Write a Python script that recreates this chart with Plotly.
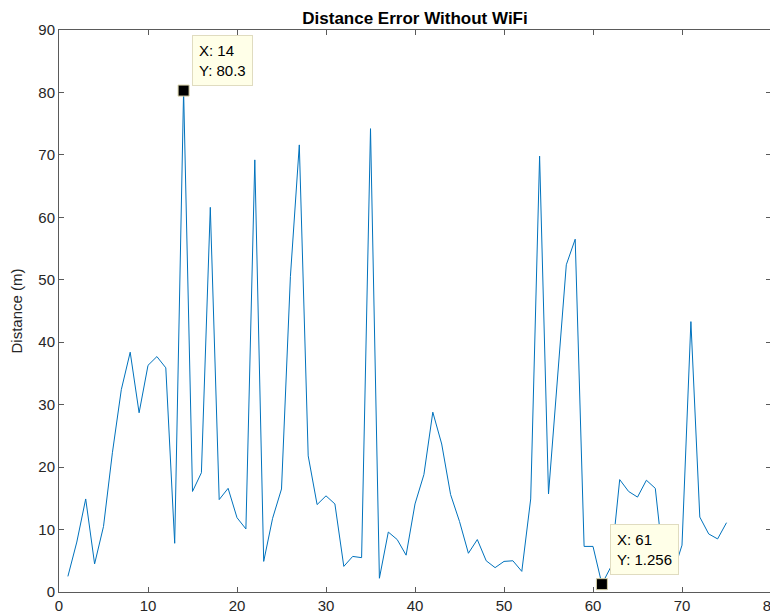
import plotly.graph_objects as go

x_vals = list(range(1, 76))
distance = [
    2.5, 8.0, 14.9, 4.5, 10.5, 22.3, 32.4, 38.4, 28.7, 36.3,
    37.7, 35.9, 7.8, 80.3, 16.1, 19.1, 61.6, 14.8, 16.6, 11.9,
    10.1, 69.2, 4.9, 11.8, 16.5, 50.5, 71.6, 21.8, 14.0, 15.4,
    14.1, 4.1, 5.7, 5.5, 74.2, 2.2, 9.6, 8.4, 5.9, 14.1,
    18.8, 28.8, 23.7, 15.6, 11.3, 6.2, 8.4, 5.0, 3.9, 4.9,
    5.0, 3.3, 14.9, 69.8, 15.7, 34.0, 52.4, 56.5, 7.3, 7.3,
    1.256, 4.0, 18.0, 16.1, 15.2, 17.9, 16.6, 3.5, 3.0, 7.5,
    43.3, 12.0, 9.3, 8.5, 11.1,
]
tip_x = [14, 61]
tip_y = [80.3, 1.256]
tip_labels = ["X: 14<br>Y: 80.3", "X: 61<br>Y: 1.256"]

title_text = "Distance Error Without WiFi"
y_title = "Distance (m)"
x_ticks = [0, 10, 20, 30, 40, 50, 60, 70, 80]
y_ticks = [0, 10, 20, 30, 40, 50, 60, 70, 80, 90]

font_family = "Liberation Sans, Arial, sans-serif"
axis_color = "#5a5a5a"
text_color = "#262626"

fig = go.Figure()
fig.add_trace(go.Scatter(
    x=x_vals, y=distance, mode="lines",
    line=dict(color="#0072BD", width=1),
    hoverinfo="skip", showlegend=False, cliponaxis=False,
))
fig.add_trace(go.Scatter(
    x=tip_x, y=tip_y, mode="markers",
    marker=dict(symbol="square", size=11, color="black",
                line=dict(color="#d8d2a8", width=1)),
    hoverinfo="skip", showlegend=False, cliponaxis=False,
))

shifts = [(8, 5), (8, 9)]
for tx, ty, lab, (xs, ys) in zip(tip_x, tip_y, tip_labels, shifts):
    fig.add_annotation(
        x=tx, y=ty, text=lab, showarrow=False,
        xanchor="left", yanchor="bottom", align="left",
        xshift=xs, yshift=ys,
        font=dict(family=font_family, size=15, color="black"),
        bgcolor="#ffffe8", bordercolor="#e0dcc0", borderwidth=1, borderpad=6,
    )

axis_common = dict(
    showgrid=False, zeroline=False, showline=True, linecolor=axis_color,
    linewidth=1, mirror="allticks", ticks="inside", ticklen=5, automargin=False,
    ticklabeloverflow="allow",
    tickcolor=axis_color, tickfont=dict(family=font_family, size=15, color=text_color),
)

# The page body adds an 8px offset, so the figure is sized and margined to compensate.
fig.update_layout(
    width=770, height=608,
    margin=dict(l=51, r=7, t=22, b=24),
    paper_bgcolor="white", plot_bgcolor="white",
    title=dict(text="<b>" + title_text + "</b>", x=0.5, xref="paper", xanchor="center",
               y=0.984, yanchor="middle", yref="container",
               font=dict(family=font_family, size=17, color="black")),
    xaxis=dict(range=[0, 80], tickvals=x_ticks, ticklabelstandoff=0, **axis_common),
    yaxis=dict(range=[0, 90], tickvals=y_ticks,
               title=dict(text=y_title, standoff=12,
                          font=dict(family=font_family, size=15, color=text_color)),
               **axis_common),
)

fig.write_html("out.html")
